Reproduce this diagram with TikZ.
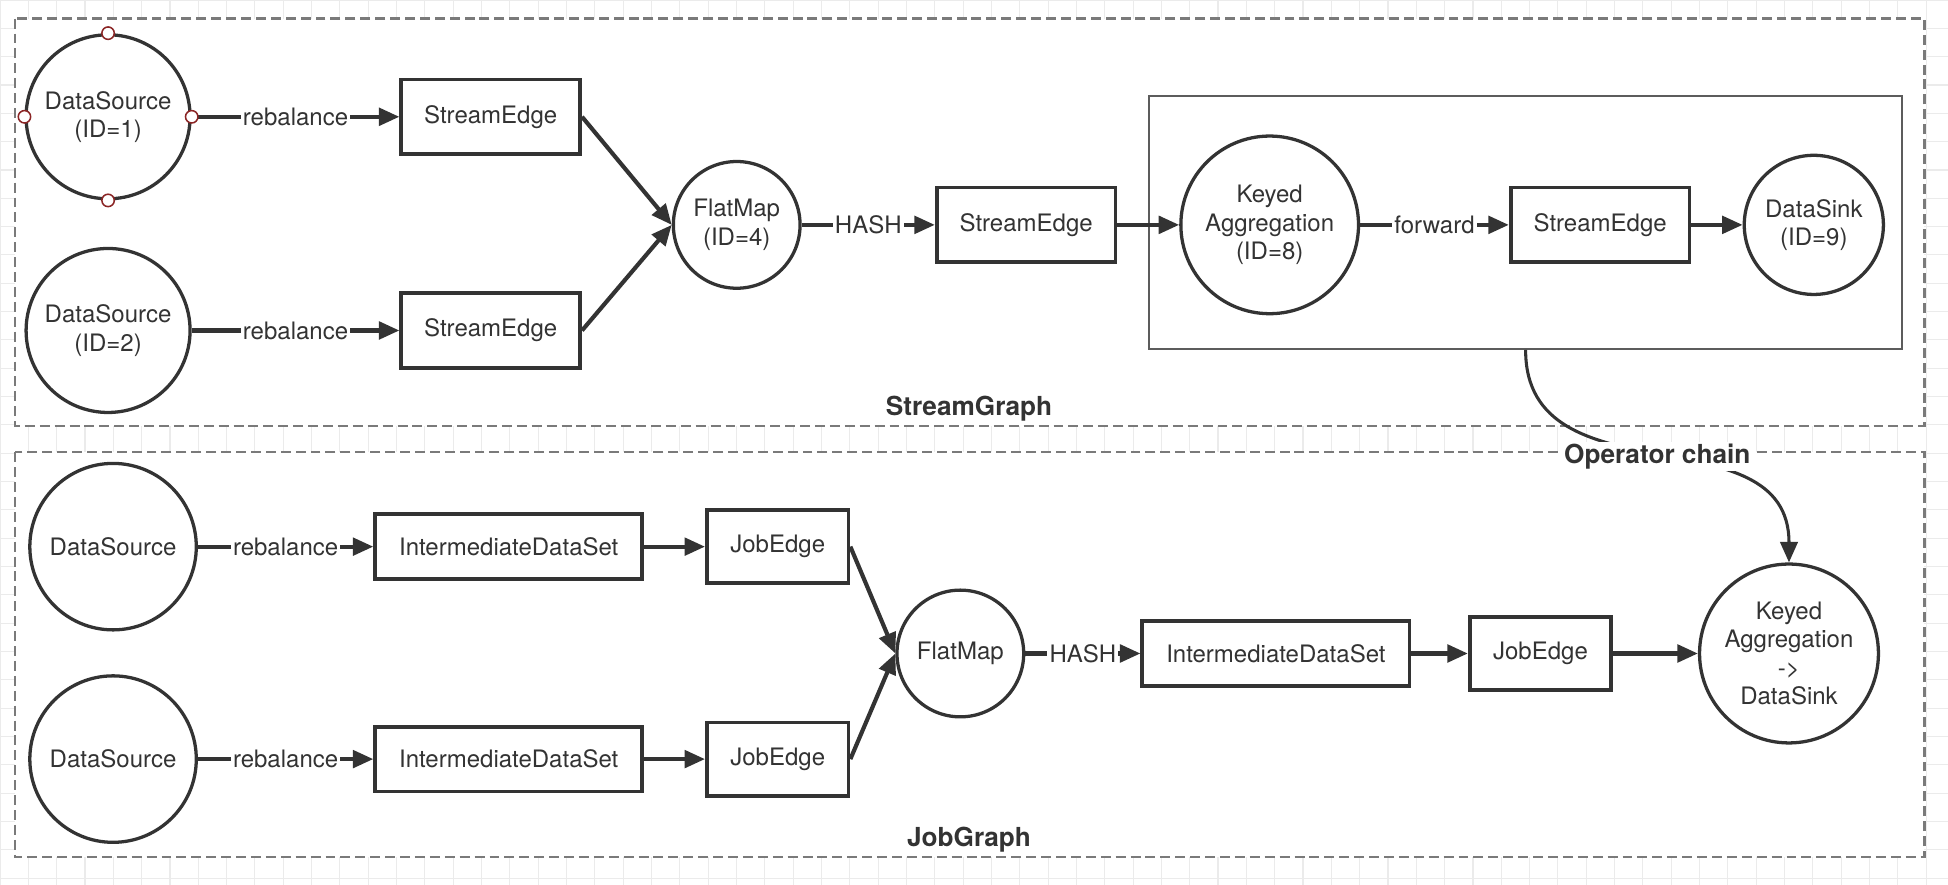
\documentclass[tikz,border=0pt]{standalone}
\usepackage{fontspec}
\setmainfont{TeX Gyre Heros}
\usetikzlibrary{arrows.meta}
\definecolor{ink}{HTML}{333333}
\definecolor{dashgray}{HTML}{7A7A7A}
\definecolor{gridgray}{HTML}{EBEBEB}
\definecolor{portred}{HTML}{8B2525}
\begin{document}
\begin{tikzpicture}[x=0.2mm, y=-0.2mm, text=ink,
        font=\fontsize{11}{13}\selectfont,
        opnode/.style={draw=ink, circle, line width=1.5pt, align=center, inner sep=0pt},
        edgebox/.style={draw=ink, rectangle, line width=1.7pt, minimum width=28.8mm, minimum height=12mm},
        idsbox/.style={edgebox, minimum width=43mm, minimum height=10.4mm},
        jobbox/.style={edgebox, minimum width=22.8mm, minimum height=11.8mm},
        flow/.style={draw=ink, line width=1.9pt, -{Triangle[length=3.3mm, width=2.8mm]}},
        elabel/.style={fill=white, inner sep=1pt},
        port/.style={draw=portred, fill=white, circle, line width=0.7pt, minimum size=2mm, inner sep=0pt},
        group/.style={draw=dashgray, dash pattern=on 1.6mm off 0.8mm, line width=1.1pt, fill=white},
        title/.style={font=\fontsize{12}{14}\selectfont\bfseries}]
        \useasboundingbox (0,0) rectangle (1568,712);
        % Background grid
        \draw[gridgray, line width=0.5pt, step=4.56mm] (0,0) grid (1568,712);

        % Dashed groups
        \draw[group] (12,15) rectangle (1549,343);
        \node[title] (sgtitle) at (780,329) {StreamGraph};
        \draw[group] (12,364) rectangle (1549,690);
        \node[title] (jgtitle) at (780,676) {JobGraph};

        % StreamGraph - operator chain frame
        \node[draw=ink!80, line width=0.8pt, minimum width=121.2mm, minimum height=40.8mm] (opchain) at (1228,179) {};

        % StreamGraph nodes
        \node[opnode, minimum size=26.4mm] (src1) at (87,94) {DataSource\\(ID=1)};
        \node[opnode, minimum size=26.4mm] (src2) at (87,266) {DataSource\\(ID=2)};
        \node[edgebox] (se1) at (395,94) {StreamEdge};
        \node[edgebox] (se2) at (395,266) {StreamEdge};
        \node[opnode, minimum size=20.4mm] (flat4) at (593,181) {FlatMap\\(ID=4)};
        \node[edgebox] (se3) at (826,181) {StreamEdge};
        \node[opnode, minimum size=28.6mm] (keyed8) at (1022,181) {Keyed\\Aggregation\\(ID=8)};
        \node[edgebox] (se4) at (1288,181) {StreamEdge};
        \node[opnode, minimum size=22.4mm] (sink9) at (1460,181) {DataSink\\(ID=9)};

        % StreamGraph edges
        \draw[flow] (src1) -- node[elabel] {rebalance} (se1);
        \draw[flow] (src2) -- node[elabel] {rebalance} (se2);
        \draw[flow] (se1.east) -- (flat4.west);
        \draw[flow] (se2.east) -- (flat4.west);
        \draw[flow] (flat4) -- node[elabel] {HASH} (se3);
        \draw[flow] (se3) -- (keyed8);
        \draw[flow] (keyed8) -- node[elabel] {forward} (se4);
        \draw[flow] (se4) -- (sink9);

        % Connection points on the first source
        \node[port] (p1n) at (src1.north) {};
        \node[port] (p1s) at (src1.south) {};
        \node[port] (p1w) at (src1.west) {};
        \node[port] (p1e) at (src1.east) {};

        % JobGraph nodes
        \node[opnode, minimum size=26.8mm] (srca) at (91,440) {DataSource};
        \node[opnode, minimum size=26.8mm] (srcb) at (91,611) {DataSource};
        \node[idsbox] (idsa) at (409.5,440) {IntermediateDataSet};
        \node[idsbox] (idsb) at (409.5,611) {IntermediateDataSet};
        \node[jobbox] (jea) at (626,440) {JobEdge};
        \node[jobbox] (jeb) at (626,611) {JobEdge};
        \node[opnode, minimum size=20.4mm] (flatj) at (773,526) {FlatMap};
        \node[idsbox] (idsc) at (1027,526) {IntermediateDataSet};
        \node[jobbox] (jec) at (1240,526) {JobEdge};
        \node[opnode, minimum size=28.8mm] (chainj) at (1440,526) {Keyed\\Aggregation\\->\\DataSink};

        % JobGraph edges
        \draw[flow] (srca) -- node[elabel] {rebalance} (idsa);
        \draw[flow] (srcb) -- node[elabel] {rebalance} (idsb);
        \draw[flow] (idsa) -- (jea);
        \draw[flow] (idsb) -- (jeb);
        \draw[flow] (jea.east) -- (flatj.west);
        \draw[flow] (jeb.east) -- (flatj.west);
        \draw[flow] (flatj) -- node[elabel] {HASH} (idsc);
        \draw[flow] (idsc) -- (jec);
        \draw[flow] (jec) -- (chainj);

        % Chain mapping
        \draw[flow, line width=1.4pt] (opchain.south) .. controls (1228,405) and (1440,330) .. node[elabel, title] {Operator chain} (chainj.north);
\end{tikzpicture}
\end{document}
